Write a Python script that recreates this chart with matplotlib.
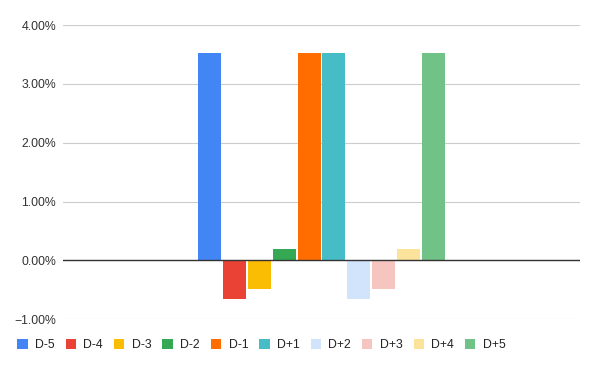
import matplotlib.pyplot as plt
from matplotlib.ticker import PercentFormatter
from matplotlib.patches import Patch

plt.rcParams['font.family'] = ['Liberation Sans', 'DejaVu Sans']

# series names and their values (fraction)
labels = ["D-5", "D-4", "D-3", "D-2", "D-1", "D+1", "D+2", "D+3", "D+4", "D+5"]
values = [0.0352, -0.0065, -0.0048, 0.0019, 0.0352, 0.0352, -0.0065, -0.0048, 0.0019, 0.0352]
colors = ["#4285F4", "#EA4335", "#FBBC04", "#34A853", "#FF6D01",
          "#46BDC6", "#D2E3FC", "#F7C5C0", "#FCE39B", "#71C287"]
yticks = [-0.01, 0.0, 0.01, 0.02, 0.03, 0.04]

fig = plt.figure(figsize=(6, 3.71), dpi=100)
ax = fig.add_axes([63 / 600, 1 - 319.3 / 371, (580 - 63) / 600, (319.3 - 25) / 371])

x = range(len(labels))
ax.bar(x, values, width=0.92, color=colors, zorder=3)

# center the group of bars in the plot area
ax.set_xlim(4.5 - 10.35, 4.5 + 10.35)
ax.set_ylim(-0.01, 0.04)
ax.set_yticks(yticks)
ax.yaxis.set_major_formatter(PercentFormatter(1.0, decimals=2))
ax.set_xticks([])

ax.grid(axis='y', color='#cccccc', linewidth=0.8, zorder=0)
ax.axhline(0, color='#333333', linewidth=1, zorder=4)
for s in ax.spines.values():
    s.set_visible(False)
ax.tick_params(axis='y', length=0, pad=5, labelsize=8.8, labelcolor='#333333')

handles = [Patch(facecolor=c, label=l) for c, l in zip(colors, labels)]
fig.legend(handles=handles, loc='center left', bbox_to_anchor=(0.029, 1 - 345 / 371), ncol=10,
           frameon=False, fontsize=8.8, handlelength=0.85, handleheight=0.85,
           handletextpad=0.6, columnspacing=0.9, labelcolor='#222222',
           borderpad=0, borderaxespad=0)

fig.savefig("out.png", dpi=100)
